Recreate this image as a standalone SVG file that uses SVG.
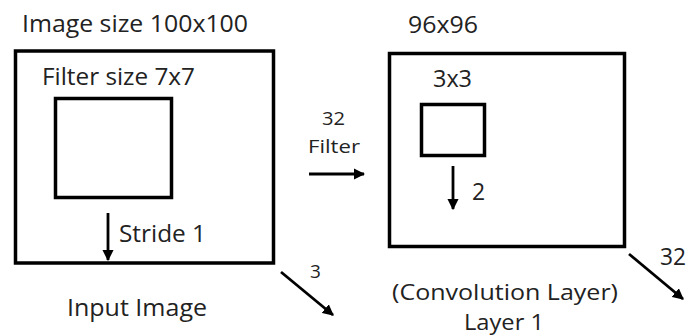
<svg xmlns="http://www.w3.org/2000/svg" width="689" height="336" viewBox="0 0 689 336">
<defs>
<style>
.t{font-family:"Open Sans","Liberation Sans",sans-serif;fill:#222;font-size:23px}
.s{font-size:19px}
.m{font-size:21px}
.box{fill:none;stroke:#000;stroke-width:3.5}
.ar{stroke:#000;stroke-width:2.8;fill:none}
</style>
<marker id="ah" viewBox="0 0 10 10" refX="9" refY="5" markerWidth="4" markerHeight="4" orient="auto" markerUnits="strokeWidth">
<path d="M0,0 L10,5 L0,10 Z" fill="#000"/>
</marker>
</defs>
<rect width="689" height="336" fill="#fff"/>
<g id="input-image">
<rect class="box" x="15.5" y="51" width="258" height="212"/>
<text class="t" x="22" y="32" textLength="226" lengthAdjust="spacingAndGlyphs">Image size 100x100</text>
<text class="t" x="67" y="316" textLength="140" lengthAdjust="spacingAndGlyphs">Input Image</text>
</g>
<g id="filter-7x7">
<rect class="box" x="55.5" y="98.5" width="116" height="99"/>
<text class="t" x="42" y="85" textLength="153" lengthAdjust="spacingAndGlyphs">Filter size 7x7</text>
</g>
<g id="conv-layer">
<rect class="box" x="389.5" y="53.5" width="235" height="193"/>
<text class="t" x="408" y="33" textLength="70" lengthAdjust="spacingAndGlyphs">96x96</text>
<text class="t m" x="392" y="300" textLength="226" lengthAdjust="spacingAndGlyphs">(Convolution Layer)</text>
<text class="t m" x="464" y="330" textLength="80" lengthAdjust="spacingAndGlyphs">Layer 1</text>
</g>
<g id="filter-3x3">
<rect class="box" x="421.5" y="104.5" width="63" height="51"/>
<text class="t" x="433" y="87" textLength="39" lengthAdjust="spacingAndGlyphs">3x3</text>
</g>
<g id="connectors">
<line class="ar" x1="108" y1="213" x2="108" y2="260" marker-end="url(#ah)"/>
<text class="t" x="119" y="242" textLength="87" lengthAdjust="spacingAndGlyphs">Stride 1</text>
<line class="ar" x1="309" y1="174" x2="364" y2="174" marker-end="url(#ah)"/>
<text class="t s" x="322" y="125" textLength="23" lengthAdjust="spacingAndGlyphs">32</text>
<text class="t s" x="308" y="153" textLength="52" lengthAdjust="spacingAndGlyphs">Filter</text>
<line class="ar" x1="281" y1="272" x2="333" y2="315" marker-end="url(#ah)"/>
<text class="t s" x="310" y="278">3</text>
<line class="ar" x1="453" y1="166" x2="453" y2="209" marker-end="url(#ah)"/>
<text class="t" x="472" y="200">2</text>
<line class="ar" x1="629" y1="254" x2="683" y2="299" marker-end="url(#ah)"/>
<text class="t" x="660" y="265" textLength="26" lengthAdjust="spacingAndGlyphs">32</text>
</g>
</svg>
